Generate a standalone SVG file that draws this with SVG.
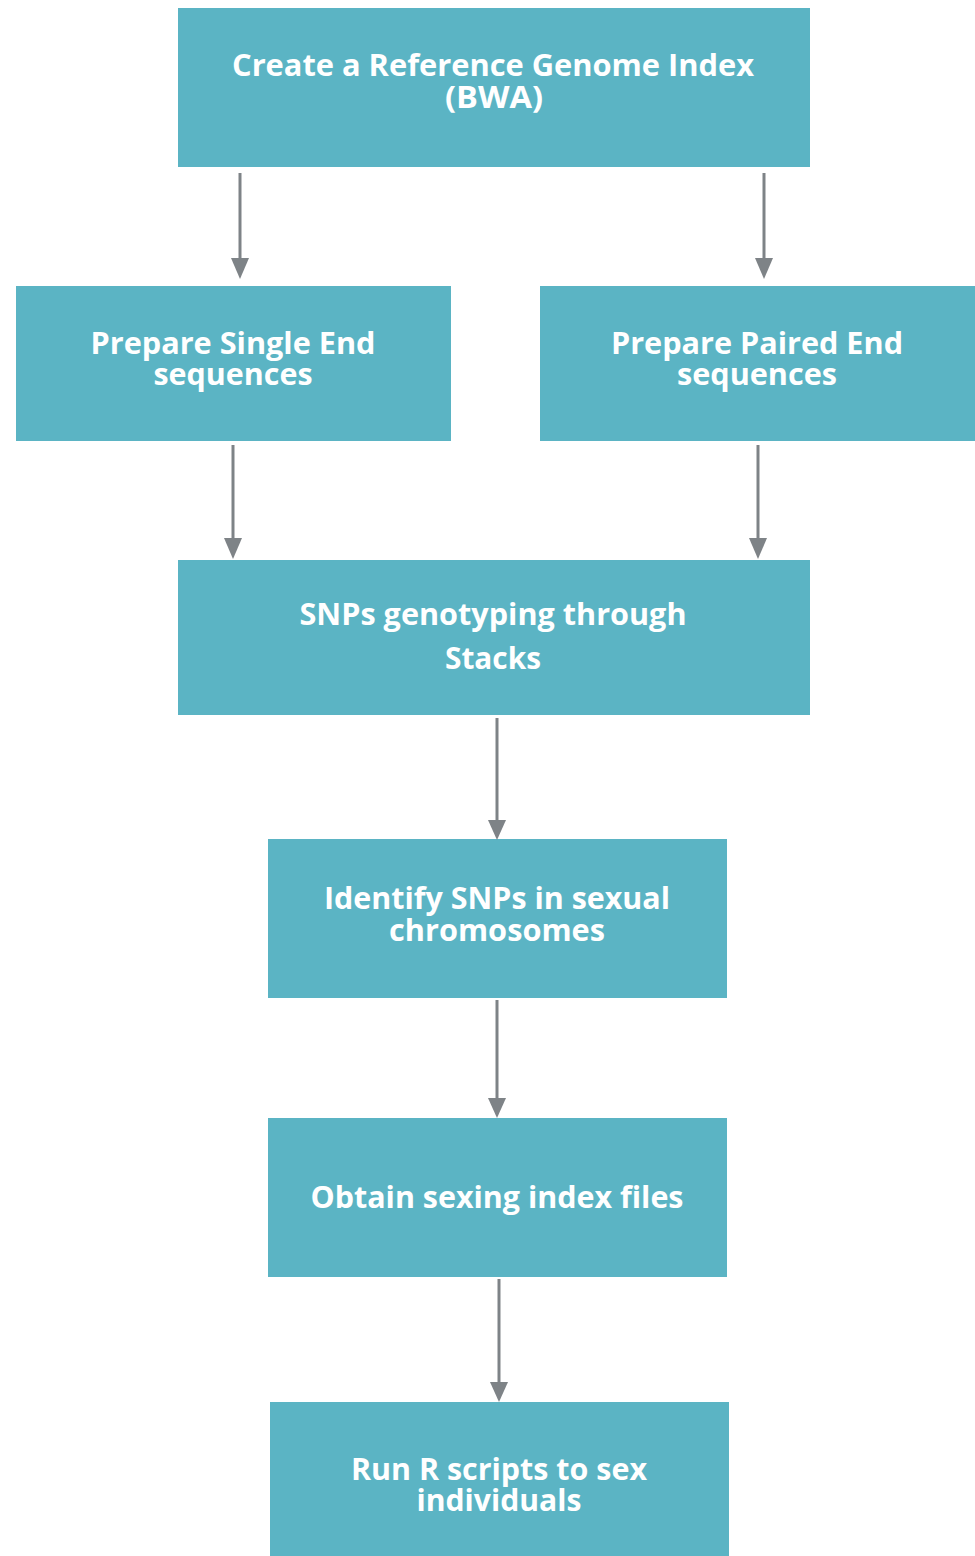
<svg xmlns="http://www.w3.org/2000/svg" width="975" height="1556" viewBox="0 0 975 1556">
<style>
.box{fill:#5BB4C4;}
.t{font-family:"Open Sans","Liberation Sans",sans-serif;font-weight:700;font-size:30px;fill:#FFFFFF;text-anchor:middle;}
.c{stroke:#7E8387;stroke-width:3;fill:none;}
.h{fill:#7E8387;}
</style>
<rect width="975" height="1556" fill="#FFFFFF"/>
<g id="n1">
<rect class="box" x="178" y="8" width="632" height="159"/>
<text class="t" x="493" y="76" textLength="522" lengthAdjust="spacingAndGlyphs">Create a Reference Genome Index</text>
<text class="t" x="494" y="108" textLength="98" lengthAdjust="spacingAndGlyphs">(BWA)</text>
</g>
<g id="n2">
<rect class="box" x="16" y="286" width="435" height="155"/>
<text class="t" x="233" y="354" textLength="285" lengthAdjust="spacingAndGlyphs">Prepare Single End</text>
<text class="t" x="233" y="385" textLength="159" lengthAdjust="spacingAndGlyphs">sequences</text>
</g>
<g id="n3">
<rect class="box" x="540" y="286" width="435" height="155"/>
<text class="t" x="757" y="354" textLength="292" lengthAdjust="spacingAndGlyphs">Prepare Paired End</text>
<text class="t" x="757" y="385" textLength="160" lengthAdjust="spacingAndGlyphs">sequences</text>
</g>
<g id="n4">
<rect class="box" x="178" y="560" width="632" height="155"/>
<text class="t" x="493" y="625" textLength="387" lengthAdjust="spacingAndGlyphs">SNPs genotyping through</text>
<text class="t" x="493" y="669" textLength="96" lengthAdjust="spacingAndGlyphs">Stacks</text>
</g>
<g id="n5">
<rect class="box" x="268" y="839" width="459" height="159"/>
<text class="t" x="497" y="909" textLength="346" lengthAdjust="spacingAndGlyphs">Identify SNPs in sexual</text>
<text class="t" x="497" y="941" textLength="216" lengthAdjust="spacingAndGlyphs">chromosomes</text>
</g>
<g id="n6">
<rect class="box" x="268" y="1118" width="459" height="159"/>
<text class="t" x="497" y="1208" textLength="373" lengthAdjust="spacingAndGlyphs">Obtain sexing index files</text>
</g>
<g id="n7">
<rect class="box" x="270" y="1402" width="459" height="154"/>
<text class="t" x="499" y="1480" textLength="296" lengthAdjust="spacingAndGlyphs">Run R scripts to sex</text>
<text class="t" x="499" y="1511" textLength="165" lengthAdjust="spacingAndGlyphs">individuals</text>
</g>
<g id="connectors">
<line class="c" x1="240" y1="173" x2="240" y2="260"/><polygon class="h" points="231,258 249,258 240,279"/>
<line class="c" x1="764" y1="173" x2="764" y2="260"/><polygon class="h" points="755,258 773,258 764,279"/>
<line class="c" x1="233" y1="445" x2="233" y2="540"/><polygon class="h" points="224,538 242,538 233,559"/>
<line class="c" x1="758" y1="445" x2="758" y2="540"/><polygon class="h" points="749,538 767,538 758,559"/>
<line class="c" x1="497" y1="718" x2="497" y2="822"/><polygon class="h" points="488,820 506,820 497,840"/>
<line class="c" x1="497" y1="1000" x2="497" y2="1100"/><polygon class="h" points="488,1098 506,1098 497,1118"/>
<line class="c" x1="499" y1="1279" x2="499" y2="1384"/><polygon class="h" points="490,1382 508,1382 499,1402"/>
</g>
</svg>
